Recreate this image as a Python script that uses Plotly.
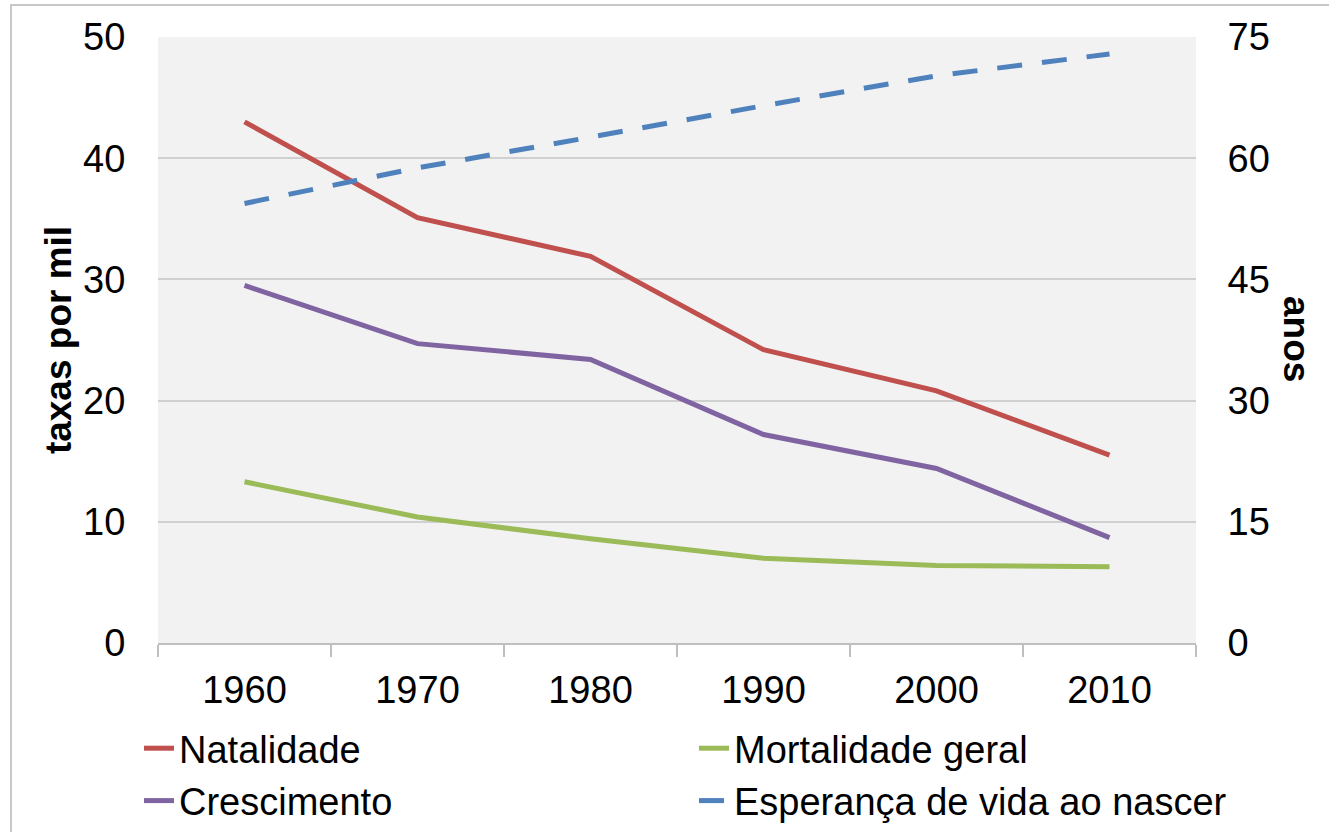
import plotly.graph_objects as go

anos_lbl = ['1960', '1970', '1980', '1990', '2000', '2010']
natalidade = [43.0, 35.1, 31.9, 24.2, 20.8, 15.5]
mortalidade = [13.3, 10.4, 8.6, 7.0, 6.4, 6.3]
crescimento = [29.5, 24.7, 23.4, 17.2, 14.4, 8.7]
esperanca = [54.4, 58.8, 62.6, 66.5, 70.2, 72.9]

FONT = 'Liberation Sans, Arial, sans-serif'
W, H = 1329, 832
L, R, T, B = 158, 133, 37, 189
pw, ph = W - L - R, H - T - B

fig = go.Figure()
fig.add_trace(go.Scatter(x=anos_lbl, y=natalidade, name='Natalidade', mode='lines',
                         line=dict(color='#c0504d', width=5)))
fig.add_trace(go.Scatter(x=anos_lbl, y=mortalidade, name='Mortalidade geral', mode='lines',
                         line=dict(color='#9bbb59', width=5)))
fig.add_trace(go.Scatter(x=anos_lbl, y=crescimento, name='Crescimento', mode='lines',
                         line=dict(color='#8064a2', width=5)))
fig.add_trace(go.Scatter(x=anos_lbl, y=esperanca, name='Esperança de vida ao nascer', mode='lines',
                         yaxis='y2', line=dict(color='#4f81bd', width=5, dash='25px,20px')))

fig.update_layout(
    width=W, height=H,
    margin=dict(l=L, r=R, t=T, b=B, autoexpand=False),
    paper_bgcolor='white',
    plot_bgcolor='#f2f2f2',
    font=dict(family=FONT, size=38, color='black'),
    xaxis=dict(type='category', range=[-0.5, 5.5], tickson='boundaries',
               ticks='outside', ticklen=12, tickcolor='#bfbfbf', tickwidth=2,
               showline=True, linecolor='#bfbfbf', linewidth=2,
               showgrid=False, tickfont=dict(size=38), ticklabelstandoff=12),
    yaxis=dict(range=[0, 50], dtick=10, showgrid=True, gridcolor='#d0d0d0', gridwidth=1.5,
               zeroline=False, ticks='outside', ticklen=24, tickcolor='rgba(0,0,0,0)',
               tickfont=dict(size=38),
               title=dict(text='<b>taxas por mil</b>', font=dict(size=37), standoff=0)),
    yaxis2=dict(range=[0, 75], dtick=15, overlaying='y', side='right', showgrid=False,
                zeroline=False, ticks='outside', ticklen=23, tickcolor='rgba(0,0,0,0)',
                tickfont=dict(size=38)),
    showlegend=True,
    legend=dict(orientation='h', x=(139 - L) / pw, xanchor='left',
                y=(643 - 717) / ph, yanchor='top', entrywidth=510,
                font=dict(size=38), bgcolor='rgba(0,0,0,0)', itemwidth=30),
    annotations=[dict(text='<b>anos</b>', textangle=90, xref='paper', yref='paper',
                      x=(1297 - L) / pw, y=(643 - 339) / ph, showarrow=False,
                      font=dict(size=37), xanchor='center', yanchor='middle')],
    shapes=[dict(type='rect', xref='paper', yref='paper',
                 x0=(11 - L) / pw, x1=(1400 - L) / pw,
                 y0=(643 - 900) / ph, y1=(643 - 5) / ph,
                 line=dict(color='#c8c8c8', width=2), layer='below')],
)

# page body has a default 8px margin; drop it so the figure sits at the window corner
fig.write_html('out.html', config={'displayModeBar': False},
               post_script="document.body.style.margin='0';")
